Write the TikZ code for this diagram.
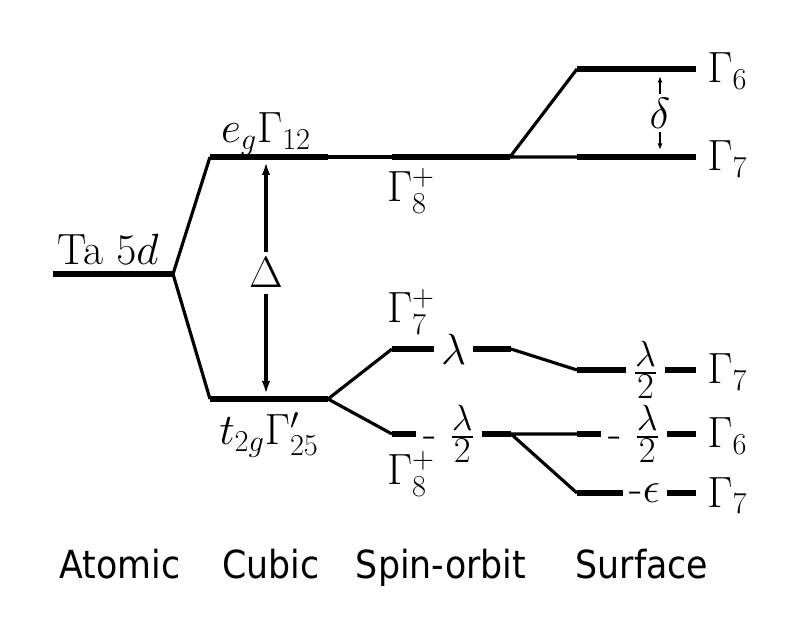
\documentclass[tikz,border=0pt]{standalone}
\usepackage{fontspec}
\usepackage{amsmath}
\usetikzlibrary{calc, positioning, arrows.meta}
\newfontfamily\catfont{DejaVu Sans Condensed}
\DeclareMathSizes{24.88}{24.88}{17.28}{12}
\newcommand{\halfl}{\frac{\text{\huge$\lambda$}}{\text{\huge$2$}}}
\tikzset{level/.style={line width=3.4pt},
link/.style={line width=1.8pt},
tag/.style={font=\Huge, inner sep=0pt},
cut/.style={font=\Huge, fill=white, inner xsep=4pt, inner ysep=0pt},
stage/.style={font=\catfont\fontsize{22}{26}\selectfont, anchor=base}}

\begin{document}
\begin{tikzpicture}
\useasboundingbox (0,0) rectangle (16,12.56);

%DRAWING levels

 \foreach \name/\xa/\xb/\y in {Ta/1.06/3.46/7.08, eg/4.2/6.56/9.42, tt/4.2/6.56/4.58,
   SOa/7.84/10.2/9.42, SOb/7.84/10.22/5.58, SOc/7.84/10.22/3.88,
   Sa/11.54/13.92/11.18, Sb/11.54/13.92/9.42, Sc/11.54/13.92/5.16,
   Sd/11.54/13.92/3.88, Se/11.54/13.92/2.7}
 {\coordinate (\name L) at (\xa,\y);
  \coordinate (\name R) at (\xb,\y);
  \draw[level] (\name L)--(\name R);}

%Splitting lines

  \draw[link] (egL)--(TaR)--(ttL);
  \draw[link] (egR)--(SOaL);
  \draw[link] (SObL)--(ttR)--(SOcL);
  \draw[link] (SaL)--(SOaR)--(SbL);
  \draw[link] (SObR)--(ScL);
  \draw[link] (SdL)--(SOcR)--(SeL);

%Energy shifts on the levels

  \node[cut] (ShiftSOb) at (9.07,5.58) {$\lambda$};
  \node[cut] (ShiftSOc) at (8.98,3.88) {- $\halfl$};
  \node[cut] (ShiftSc) at (12.91,5.16) {$\halfl$};
  \node[cut] (ShiftSd) at (12.68,3.88) {- $\halfl$};
  \node[cut] (ShiftSe) at (12.9,2.7) {-$\epsilon$};

%Level names

  \node[tag,anchor=base] (TaLabel) at (2.16,7.26) {Ta $5d$};
  \node[tag,anchor=base] (egLabel) at (5.32,9.7) {$e_g\Gamma_{12}$};
  \node[tag,anchor=base] (ttLabel) at (5.38,3.66) {$t_{2g}\Gamma'_{25}$};
  \node[tag,anchor=base] (SOaLabel) at (8.22,8.52) {$\Gamma_8^+$};
  \node[tag,anchor=base] (SObLabel) at (8.22,6.1) {$\Gamma_7^+$};
  \node[tag,anchor=base] (SOcLabel) at (8.22,2.86) {$\Gamma_8^+$};

  \foreach \lev/\sym in {Sa/6, Sb/7, Sc/7, Sd/6, Se/7}
  \node[tag,anchor=base west] (\lev Label) at ($(\lev R)+(0.22,-0.28)$) {$\Gamma_{\sym}$};

%Gaps

  \node[tag,inner sep=3.5pt] (Gap) at (5.32,7.1) {$\Delta$};
  \draw[link,-{Latex[length=0.26cm,width=0.17cm]},shorten >=0.1cm] (Gap)--(Gap |- egL);
  \draw[link,-{Latex[length=0.26cm,width=0.17cm]},shorten >=0.1cm] (Gap)--(Gap |- ttL);

  \node[tag,inner sep=2pt] (SmallGap) at (13.2,10.3) {$\delta$};
  \draw[line width=1pt,-{Latex[length=0.13cm,width=0.1cm]},shorten >=0.14cm] (SmallGap)--(SmallGap |- SaL);
  \draw[line width=1pt,-{Latex[length=0.13cm,width=0.1cm]},shorten >=0.14cm] (SmallGap)--(SmallGap |- SbL);

%Stages

  \node[stage] (Atomic) at (2.4,1.0) {Atomic};
  \node[stage] (Cubic) at (5.42,1.0) {Cubic};
  \node[stage] (SpinOrbit) at (8.82,1.0) {Spin-orbit};
  \node[stage] (Surface) at (12.84,1.0) {Surface};

\end{tikzpicture}
\end{document}
